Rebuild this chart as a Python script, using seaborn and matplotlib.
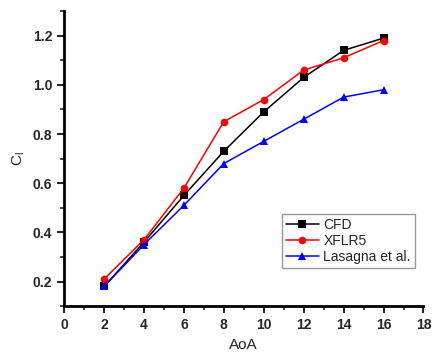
import matplotlib
matplotlib.use("Agg")
import matplotlib.pyplot as plt
import seaborn as sns
import pandas as pd
from matplotlib.ticker import MultipleLocator

aoa = [2, 4, 6, 8, 10, 12, 14, 16]
cfd = [0.18, 0.36, 0.55, 0.73, 0.89, 1.03, 1.14, 1.19]
xflr5 = [0.21, 0.37, 0.58, 0.85, 0.94, 1.06, 1.11, 1.18]
lasagna = [0.18, 0.35, 0.51, 0.68, 0.77, 0.86, 0.95, 0.98]
series_names = ["CFD", "XFLR5", "Lasagna et al."]

sns.set_style("white")
plt.rcParams['font.family'] = ['Liberation Sans', 'DejaVu Sans']

df = pd.DataFrame({"AoA": aoa * 3,
                   "Cl": cfd + xflr5 + lasagna,
                   "series": sum([[n] * len(aoa) for n in series_names], [])})

fig = plt.figure(figsize=(4.33, 3.56), dpi=100)
ax = fig.add_axes([0.148, 0.140, 0.830, 0.829])
palette = {"CFD": "black", "XFLR5": "red", "Lasagna et al.": "blue"}
markers = {"CFD": "s", "XFLR5": "o", "Lasagna et al.": "^"}
sns.lineplot(data=df, x="AoA", y="Cl", hue="series", style="series",
             palette=palette, markers=markers, dashes=False, markersize=5.5,
             markeredgewidth=0, linewidth=1.1, ax=ax)

ax.set_xlim(0, 18)
ax.set_ylim(0.1, 1.3)
ax.xaxis.set_major_locator(MultipleLocator(2))
ax.xaxis.set_minor_locator(MultipleLocator(1))
ax.yaxis.set_major_locator(MultipleLocator(0.2))
ax.yaxis.set_minor_locator(MultipleLocator(0.1))
ax.set_yticks([0.2, 0.4, 0.6, 0.8, 1.0, 1.2])
ax.yaxis.set_major_formatter(matplotlib.ticker.FormatStrFormatter('%.1f'))
for s in ["top", "right"]:
    ax.spines[s].set_visible(False)
for s in ["left", "bottom"]:
    ax.spines[s].set_linewidth(2)
    ax.spines[s].set_color("black")
ax.tick_params(which="major", direction="out", length=5, width=1.5, labelsize=10,
               left=True, bottom=True)
ax.tick_params(which="minor", direction="out", length=3, width=1.2, left=True, bottom=True)
for lbl in ax.get_xticklabels() + ax.get_yticklabels():
    lbl.set_fontweight("bold")
ax.set_xlabel("AoA", fontsize=11)
ax.set_ylabel("C$_\\mathregular{l}$", fontsize=11)

leg = ax.legend(loc="lower right", bbox_to_anchor=(0.995, 0.105), fontsize=10,
                frameon=True, fancybox=False, edgecolor="gray",
                borderpad=0.3, labelspacing=0.15, handlelength=2.4, handletextpad=0.3)
leg.get_frame().set_linewidth(1)

fig.savefig("out.png", dpi=100)
